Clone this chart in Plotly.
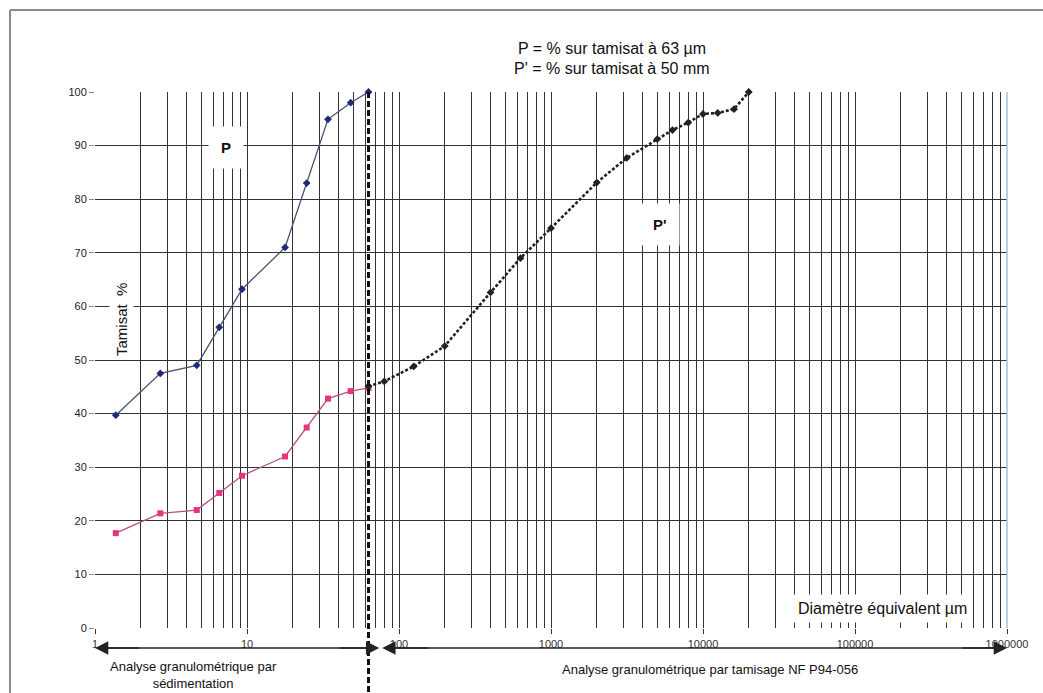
import math
import plotly.graph_objects as go

# ---------------- data ----------------
# Sedimentation analysis (diameter in µm)
sed_diam = [1.37, 2.69, 4.67, 6.57, 9.27, 17.8, 24.7, 34.1, 48.1, 63]
P_vals = [39.7, 47.5, 49.0, 56.1, 63.2, 71.0, 83.0, 94.9, 98.0, 100.0]
P2_sed_vals = [17.7, 21.4, 22.0, 25.2, 28.4, 32.0, 37.4, 42.8, 44.2, 44.8]

# Sieve analysis NF P94-056 (diameter in µm)
sieve_diam = [63, 80, 125, 200, 400, 630, 1000, 2000, 3150, 5000, 6300, 8000,
              10000, 12500, 16000, 20000]
P2_sieve_vals = [45.1, 46.0, 48.8, 52.6, 62.6, 69.0, 74.6, 83.1, 87.7, 91.2,
                 92.9, 94.3, 95.9, 96.1, 96.8, 100.0]

x_tick_vals = [1, 10, 100, 1000, 10000, 100000, 1000000]
x_tick_text = ["1", "10", "100", "1000", "10000", "100000", "1000000"]
y_tick_vals = [0, 10, 20, 30, 40, 50, 60, 70, 80, 90, 100]
limit_63 = 63  # µm separation between methods

# --------------- figure ----------------
W, H = 1043, 693
L, R, T, B = 95, 36, 92, 65
plot_w = W - L - R
plot_h = H - T - B
BOT = T + plot_h  # pixel row of y = 0


def px(xpix):
    return (xpix - L) / plot_w


def py(ypix):
    return (BOT - ypix) / plot_h


grid_col = "#333333"
minor_vals = [m * 10 ** d for d in range(6) for m in range(2, 10)]

fig = go.Figure()

fig.add_trace(go.Scatter(
    x=sed_diam, y=P_vals, mode="lines+markers",
    line=dict(color="#4a4f6e", width=1.3),
    marker=dict(symbol="diamond", size=6, color="#1e2a78"),
    showlegend=False, cliponaxis=False))

fig.add_trace(go.Scatter(
    x=sed_diam, y=P2_sed_vals, mode="lines+markers",
    line=dict(color="#b8507c", width=1.3),
    marker=dict(symbol="square", size=6, color="#e8327e"),
    showlegend=False))

fig.add_trace(go.Scatter(
    x=sieve_diam, y=P2_sieve_vals, mode="lines+markers",
    line=dict(color="#222222", width=2.6, dash="3px,2px"),
    marker=dict(symbol="diamond", size=6, color="#222222"),
    showlegend=False, cliponaxis=False))

fig.update_xaxes(
    type="log", range=[0, 6],
    tickmode="array", tickvals=x_tick_vals, ticktext=x_tick_text,
    tickfont=dict(family="Liberation Sans, Arial", size=11, color="#333"),
    ticks="outside", ticklen=5, tickcolor=grid_col,
    showgrid=True, gridcolor=grid_col, gridwidth=1.2,
    minor=dict(tickmode="array", tickvals=minor_vals, showgrid=True,
               gridcolor=grid_col, gridwidth=1.2, ticks=""),
    zeroline=False, showline=False,
    ticklabelstandoff=1,
)
fig.update_yaxes(
    range=[0, 100], tickmode="array", tickvals=y_tick_vals,
    tickfont=dict(family="Liberation Sans, Arial", size=11, color="#222"),
    ticks="outside", ticklen=5, tickcolor="#888",
    showgrid=True, gridcolor=grid_col, gridwidth=1.2,
    zeroline=False, showline=False,
)

arrow_y = py(648)

shapes = [
    # outer frame (top and left)
    dict(type="line", xref="paper", yref="paper", x0=px(10), x1=px(W + 5),
         y0=py(10), y1=py(10), line=dict(color="#8a8a8a", width=2)),
    dict(type="line", xref="paper", yref="paper", x0=px(10), x1=px(10),
         y0=py(10), y1=py(H + 5), line=dict(color="#8a8a8a", width=2)),
    # right edge of plot
    dict(type="line", xref="paper", yref="paper", x0=1, x1=1, y0=0, y1=1,
         line=dict(color="#9fc3e0", width=1.5)),
    # 63 µm separation line
    dict(type="line", xref="x", yref="paper", x0=limit_63, x1=limit_63,
         y0=1.0, y1=py(H + 5),
         line=dict(color="#111", width=3, dash="6px,3px")),
    # arrow shafts
    dict(type="line", xref="x", yref="paper", x0=1.05, x1=70,
         y0=arrow_y, y1=arrow_y, line=dict(color="#222", width=1.5)),
    dict(type="line", xref="x", yref="paper", x0=80, x1=950000,
         y0=arrow_y, y1=arrow_y, line=dict(color="#222", width=1.5)),
]
fig.update_layout(shapes=shapes)

ann = []
# arrowheads (annotation coordinates on log axis are log10 values)
for xh, xt in [(0.0, 0.3), (1.87, 1.6), (1.89, 2.2), (6.0, 5.7)]:
    ann.append(dict(x=xh, y=arrow_y, xref="x", yref="paper",
                    ax=xt, ay=0, axref="x", ayref="pixel",
                    text="", showarrow=True, arrowhead=2, arrowsize=1.9,
                    arrowwidth=1.4, arrowcolor="#222", standoff=0))

font_main = "Liberation Sans, Arial"


def label(xpix, ypix, text, size, **kw):
    d = dict(x=px(xpix), y=py(ypix), xref="paper", yref="paper",
             xanchor="center", yanchor="middle", text=text, showarrow=False,
             font=dict(family=font_main, size=size, color="#111"))
    d.update(kw)
    return d


ann += [
    label(612, 48, "P = % sur tamisat à 63 µm", 16),
    label(612, 68, "P' = % sur tamisat à 50 mm", 16),
    label(226, 147, "<b>P</b>", 15, bgcolor="white", borderpad=12),
    label(660, 224, "<b>P'</b>", 15, bgcolor="white", borderpad=12),
    label(121, 320, "Tamisat  %", 15, textangle=-90, bgcolor="white", borderpad=3),
    label(882, 608, "Diamètre équivalent µm", 16, bgcolor="white", borderpad=5),
    label(193, 675, "Analyse granulométrique par<br>sédimentation", 13),
    label(710, 669, "Analyse granulométrique par tamisage NF P94-056", 13),
]
fig.update_layout(annotations=ann)

fig.update_layout(
    width=W, height=H,
    margin=dict(l=L, r=R, t=T, b=B),
    paper_bgcolor="white", plot_bgcolor="white",
    showlegend=False,
)

fig.write_html("out.html")
